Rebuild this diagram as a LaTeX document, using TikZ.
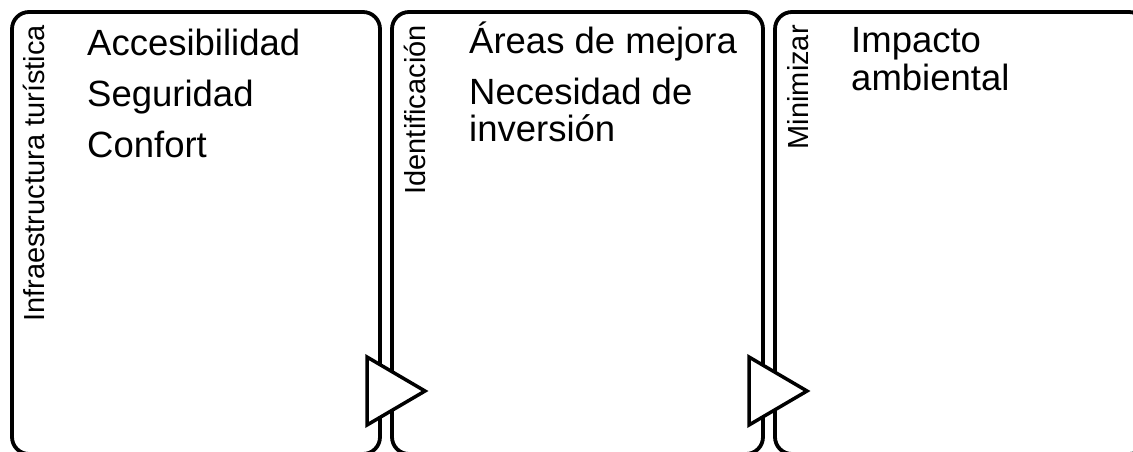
\documentclass[tikz,border=0pt]{standalone}
\usepackage{fontspec}
\setmainfont{Liberation Sans}
\begin{document}
\begin{tikzpicture}[x=1pt,y=-1pt,
  panel/.style={draw=black,line width=3.8pt,rounded corners=17pt},
  arrowtri/.style={draw=black,fill=white,line width=3.5pt,line join=miter},
  vlabel/.style={rotate=90,anchor=base east,inner sep=0pt,font=\fontsize{29}{30}\selectfont},
  item/.style={anchor=base west,inner sep=0pt,font=\fontsize{36.5}{38}\selectfont}]
\useasboundingbox (0,0) rectangle (1133,451);
\clip (0,0) rectangle (1133,451);
% panels
\draw[panel] (12,12) rectangle (380,454);
\draw[panel] (392,12) rectangle (763,454);
\draw[panel] (775,12) rectangle (1146,454);
% arrows
\draw[arrowtri] (367,357) -- (425,391) -- (367,425) -- cycle;
\draw[arrowtri] (749,357) -- (807,391) -- (749,425) -- cycle;
% vertical labels
\node[vlabel] (l1) at (44,25) {Infraestructura turística};
\node[vlabel] (l2) at (425,25) {Identificación};
\node[vlabel] (l3) at (808,25) {Minimizar};
% items
\node[item] (a1) at (87,55) {Accesibilidad};
\node[item] (a2) at (87,106) {Seguridad};
\node[item] (a3) at (87,157) {Confort};
\node[item] (b1) at (469,53) {Áreas de mejora};
\node[item] (b2) at (469,104) {Necesidad de};
\node[item] (b3) at (469,141.5) {inversión};
\node[item] (c1) at (851,52) {Impacto};
\node[item] (c2) at (851,90) {ambiental};
\end{tikzpicture}
\end{document}
